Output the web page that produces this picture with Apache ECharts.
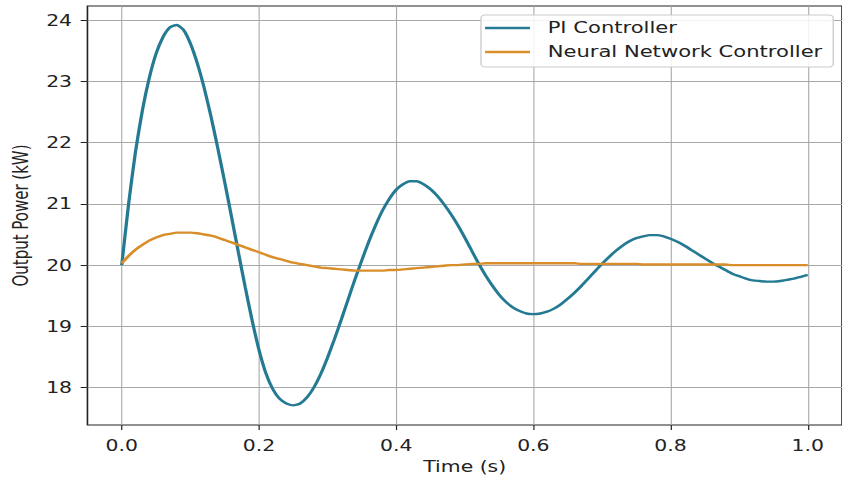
<!DOCTYPE html>
<html>
<head>
<meta charset="utf-8">
<script src="https://cdn.jsdelivr.net/npm/echarts@6/dist/echarts.min.js"></script>
<style>
    html, body { margin: 0; padding: 0; background: #fff; overflow: hidden; }
    /* the reference picture is stretched sideways, so the chart is drawn narrow and scaled */
    #chart { width: 619px; height: 479px; transform: scaleX(1.3603); transform-origin: 0 0; }
</style>
</head>
<body>
<div id="chart"></div>
<script>
// Czas (s), krok 0.01
const timeS = [
    0.00, 0.01, 0.02, 0.03, 0.04, 0.05, 0.06, 0.07, 0.08, 0.09,
    0.10, 0.11, 0.12, 0.13, 0.14, 0.15, 0.16, 0.17, 0.18, 0.19,
    0.20, 0.21, 0.22, 0.23, 0.24, 0.25, 0.26, 0.27, 0.28, 0.29,
    0.30, 0.31, 0.32, 0.33, 0.34, 0.35, 0.36, 0.37, 0.38, 0.39,
    0.40, 0.41, 0.42, 0.43, 0.44, 0.45, 0.46, 0.47, 0.48, 0.49,
    0.50, 0.51, 0.52, 0.53, 0.54, 0.55, 0.56, 0.57, 0.58, 0.59,
    0.60, 0.61, 0.62, 0.63, 0.64, 0.65, 0.66, 0.67, 0.68, 0.69,
    0.70, 0.71, 0.72, 0.73, 0.74, 0.75, 0.76, 0.77, 0.78, 0.79,
    0.80, 0.81, 0.82, 0.83, 0.84, 0.85, 0.86, 0.87, 0.88, 0.89,
    0.90, 0.91, 0.92, 0.93, 0.94, 0.95, 0.96, 0.97, 0.98, 0.99,
    1.00
];

// Moc wyjściowa (kW) - regulator PI
const piPower = [
    20.00, 21.00, 21.85, 22.52, 23.05, 23.45, 23.72, 23.88, 23.92, 23.84,
    23.62, 23.30, 22.90, 22.43, 21.91, 21.36, 20.79, 20.21, 19.64, 19.10,
    18.62, 18.24, 17.98, 17.82, 17.74, 17.71, 17.74, 17.84, 18.00, 18.22,
    18.49, 18.79, 19.11, 19.44, 19.77, 20.08, 20.38, 20.65, 20.89, 21.08,
    21.23, 21.32, 21.37, 21.37, 21.32, 21.24, 21.13, 20.99, 20.83, 20.65,
    20.45, 20.24, 20.03, 19.84, 19.67, 19.52, 19.40, 19.31, 19.25, 19.21,
    19.20, 19.21, 19.24, 19.29, 19.36, 19.45, 19.55, 19.66, 19.78, 19.90,
    20.02, 20.13, 20.23, 20.32, 20.39, 20.44, 20.47, 20.49, 20.49, 20.47,
    20.43, 20.38, 20.32, 20.25, 20.18, 20.11, 20.04, 19.98, 19.92, 19.86,
    19.82, 19.78, 19.75, 19.74, 19.73, 19.73, 19.74, 19.76, 19.78, 19.81,
    19.84
];

// Moc wyjściowa (kW) - regulator neuronowy
const nnPower = [
    20.03, 20.15, 20.25, 20.33, 20.40, 20.45, 20.49, 20.51, 20.53, 20.53,
    20.53, 20.52, 20.50, 20.48, 20.45, 20.41, 20.37, 20.33, 20.29, 20.25,
    20.21, 20.17, 20.13, 20.10, 20.07, 20.04, 20.02, 20.00, 19.98, 19.96,
    19.95, 19.94, 19.93, 19.92, 19.91, 19.91, 19.91, 19.91, 19.91, 19.92,
    19.92, 19.93, 19.94, 19.95, 19.96, 19.97, 19.98, 19.99, 20.00, 20.00,
    20.01, 20.02, 20.02, 20.03, 20.03, 20.03, 20.03, 20.03, 20.03, 20.03,
    20.03, 20.03, 20.03, 20.03, 20.03, 20.03, 20.03, 20.02, 20.02, 20.02,
    20.02, 20.02, 20.02, 20.02, 20.02, 20.02, 20.01, 20.01, 20.01, 20.01,
    20.01, 20.01, 20.01, 20.01, 20.01, 20.01, 20.01, 20.01, 20.01, 20.00,
    20.00, 20.00, 20.00, 20.00, 20.00, 20.00, 20.00, 20.00, 20.00, 20.00,
    20.00
];

const xTicks = [0.0, 0.2, 0.4, 0.6, 0.8, 1.0];
const yTicks = [18, 19, 20, 21, 22, 23, 24];

const seriesNames = ["PI Controller", "Neural Network Controller"];
const seriesColors = ["#247a93", "#d98e2a"];

const chart = echarts.init(document.getElementById("chart"), null, { renderer: "svg" });

const font = "DejaVu Sans";
const toPairs = values => timeS.map((t, i) => [t, values[i]]);

const option = {
    backgroundColor: "#fff",
    animation: false,
    grid: {
        left: 63.7, right: -1, top: 6, bottom: 52.5,
        show: true,
        borderColor: "#222",
        borderWidth: 1.2
    },
    legend: {
        orient: "vertical",
        left: 353.6,
        top: 15,
        padding: [4, 8, 6, 3],
        icon: "rect",
        itemWidth: 33,
        itemHeight: 2.4,
        itemGap: 6,
        backgroundColor: "rgba(255,255,255,0.85)",
        borderColor: "#ccc",
        borderWidth: 1,
        borderRadius: 3,
        textStyle: { fontFamily: font, fontSize: 15.5, color: "#222", lineHeight: 18, padding: [0, 0, 0, 8] },
        data: seriesNames
    },
    xAxis: {
        type: "value",
        min: -0.05,
        max: 1.05,
        name: "Time (s)",
        nameLocation: "middle",
        nameGap: 34,
        nameTextStyle: { fontFamily: font, fontSize: 15, color: "#222" },
        axisLine: { show: false, onZero: false },
        axisTick: { show: true, length: 5, lineStyle: { color: "#222", width: 0.9 }, customValues: xTicks },
        axisLabel: {
            customValues: xTicks,
            margin: 13,
            fontFamily: font, fontSize: 15, color: "#222",
            formatter: v => v.toFixed(1)
        },
        splitLine: { show: true, lineStyle: { color: "#a8a8a8", width: 0.8 } }
    },
    yAxis: {
        type: "value",
        min: 17.39,
        max: 24.23,
        name: "Output Power (kW)",
        nameLocation: "middle",
        nameGap: 41,
        nameTextStyle: { fontFamily: font, fontSize: 15, color: "#222" },
        axisLine: { show: false, onZero: false },
        axisTick: { show: true, length: 5, lineStyle: { color: "#222", width: 1 }, customValues: yTicks },
        axisLabel: {
            customValues: yTicks,
            margin: 11.3,
            fontFamily: font, fontSize: 15, color: "#222"
        },
        splitLine: { show: true, lineStyle: { color: "#a8a8a8", width: 1 } }
    },
    series: [
        {
            name: seriesNames[0],
            type: "line",
            data: toPairs(piPower),
            symbol: "none",
            smooth: 0.2,
            lineStyle: { color: seriesColors[0], width: 2.4 },
            itemStyle: { color: seriesColors[0] },
            z: 3
        },
        {
            name: seriesNames[1],
            type: "line",
            data: toPairs(nnPower),
            symbol: "none",
            smooth: 0.2,
            lineStyle: { color: seriesColors[1], width: 2.4 },
            itemStyle: { color: seriesColors[1] },
            z: 4
        }
    ]
};

chart.setOption(option);
</script>
</body>
</html>
